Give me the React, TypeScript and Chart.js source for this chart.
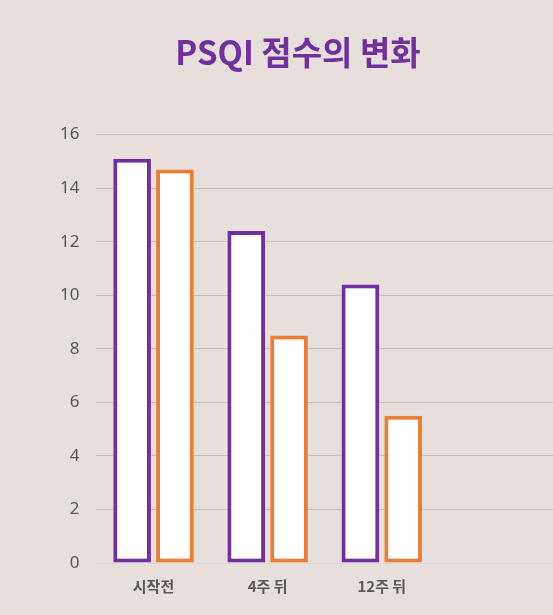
import React, { useEffect, useRef } from "react";
import Chart from "chart.js/auto";

const categories = ["시작전", "4주 뒤", "12주 뒤", ""];
const seriesA = [15.1, 12.4, 10.4, null];
const seriesB = [14.7, 8.5, 5.5, null];

const FONT = '"Noto Sans CJK KR", "Noto Sans", sans-serif';
const NUM_FONT = '"Noto Sans", "Noto Sans CJK KR", sans-serif';

const App: React.FC = () => {
  const chartRef = useRef<HTMLCanvasElement>(null);
  const chartInstance = useRef<Chart>();

  useEffect(() => {
    document.body.style.margin = "0";
    if (chartRef.current) {
      const ctx = chartRef.current.getContext("2d");
      if (ctx) {
        if (chartInstance.current) {
          chartInstance.current.destroy();
        }
        chartInstance.current = new Chart(ctx, {
          type: "bar",
          data: {
            labels: categories,
            datasets: [
              {
                label: "계열 1",
                data: seriesA,
                backgroundColor: "#ffffff",
                borderColor: "#7030a0",
                borderWidth: 4,
                borderSkipped: false
              },
              {
                label: "계열 2",
                data: seriesB,
                backgroundColor: "#ffffff",
                borderColor: "#ed7d31",
                borderWidth: 4,
                borderSkipped: false
              }
            ]
          },
          options: {
            animation: false,
            responsive: false,
            datasets: {
              bar: { categoryPercentage: 0.75, barPercentage: 0.88 }
            },
            layout: { padding: { left: 43, right: 0, bottom: 14 } },
            plugins: {
              legend: { display: false },
              tooltip: { enabled: false },
              title: {
                display: true,
                text: "PSQI 점수의 변화",
                color: "#7030a0",
                font: { family: FONT, size: 33, weight: 600 },
                padding: { top: 33, bottom: 62 }
              }
            },
            scales: {
              x: {
                grid: { display: false },
                border: { display: false },
                ticks: {
                  color: "#595959",
                  padding: 6,
                  font: { family: FONT, size: 15, weight: "bold" }
                }
              },
              y: {
                min: 0,
                max: 16,
                border: { display: false },
                grid: {
                  drawTicks: false,
                  color: (c: any) => (c.index === 0 ? "#d9d9d9" : "#c9c0bc"),
                  lineWidth: 1
                },
                ticks: {
                  stepSize: 2,
                  color: "#595959",
                  padding: 17,
                  font: { family: NUM_FONT, size: 17 }
                }
              }
            }
          }
        });
      }
    }
    return () => {
      if (chartInstance.current) {
        chartInstance.current.destroy();
      }
    };
  }, []);

  return (
    <div style={{ width: 553, height: 615, background: "#e7dfdb" }}>
      <canvas ref={chartRef} width={553} height={615} />
    </div>
  );
};

export default App;
